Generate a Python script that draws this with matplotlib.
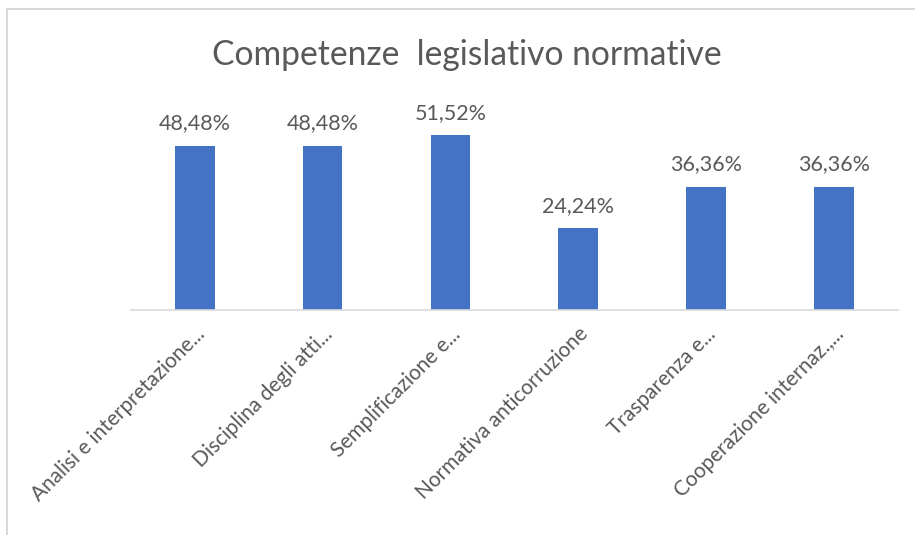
import matplotlib.pyplot as plt
from matplotlib.lines import Line2D

# Competenze legislativo normative - percentuali per area
categorie = [
    "Analisi e interpretazione...",
    "Disciplina degli atti...",
    "Semplificazione e...",
    "Normativa anticorruzione",
    "Trasparenza e...",
    "Cooperazione internaz.,...",
]
percentuali = [48.48, 48.48, 51.52, 24.24, 36.36, 36.36]

plt.rcParams['font.family'] = ['Lato', 'DejaVu Sans']
grigio = '#595959'
blu = '#4472C4'

fig = plt.figure(figsize=(9.15, 5.35), dpi=100)
ax = fig.add_axes([0.143, 0.4206, 0.838, 0.38])

x = range(len(categorie))
barre = ax.bar(x, percentuali, width=0.31, color=blu)
ax.set_ylim(0, 60)
ax.set_xlim(-0.5, len(categorie) - 0.5)

for b, v in zip(barre, percentuali):
    ax.text(b.get_x() + b.get_width() / 2, v + 3.6,
            f"{v:.2f}%".replace('.', ','),
            ha='center', va='bottom', fontsize=15.5, color=grigio)

ax.set_xticks(list(x))
ax.set_xticklabels(categorie, rotation=45, ha='right', rotation_mode='anchor',
                   fontsize=15, color=grigio)
ax.tick_params(axis='x', length=0, pad=10)
ax.set_yticks([])
for s in ['top', 'right', 'left']:
    ax.spines[s].set_visible(False)
ax.spines['bottom'].set_color('#d9d9d9')
ax.spines['bottom'].set_linewidth(1.2)

fig.text(0.51, 0.897, "Competenze  legislativo normative",
         ha='center', va='center', fontsize=24.2, color=grigio)

# cornice del grafico (solo lati superiore e sinistro)
fig.add_artist(Line2D([0.0077, 1.0], [0.983, 0.983], transform=fig.transFigure,
                      color='#d9d9d9', linewidth=1.5))
fig.add_artist(Line2D([0.0077, 0.0077], [0.983, 0.0], transform=fig.transFigure,
                      color='#d9d9d9', linewidth=1.5))

fig.savefig('out.png', dpi=100)
